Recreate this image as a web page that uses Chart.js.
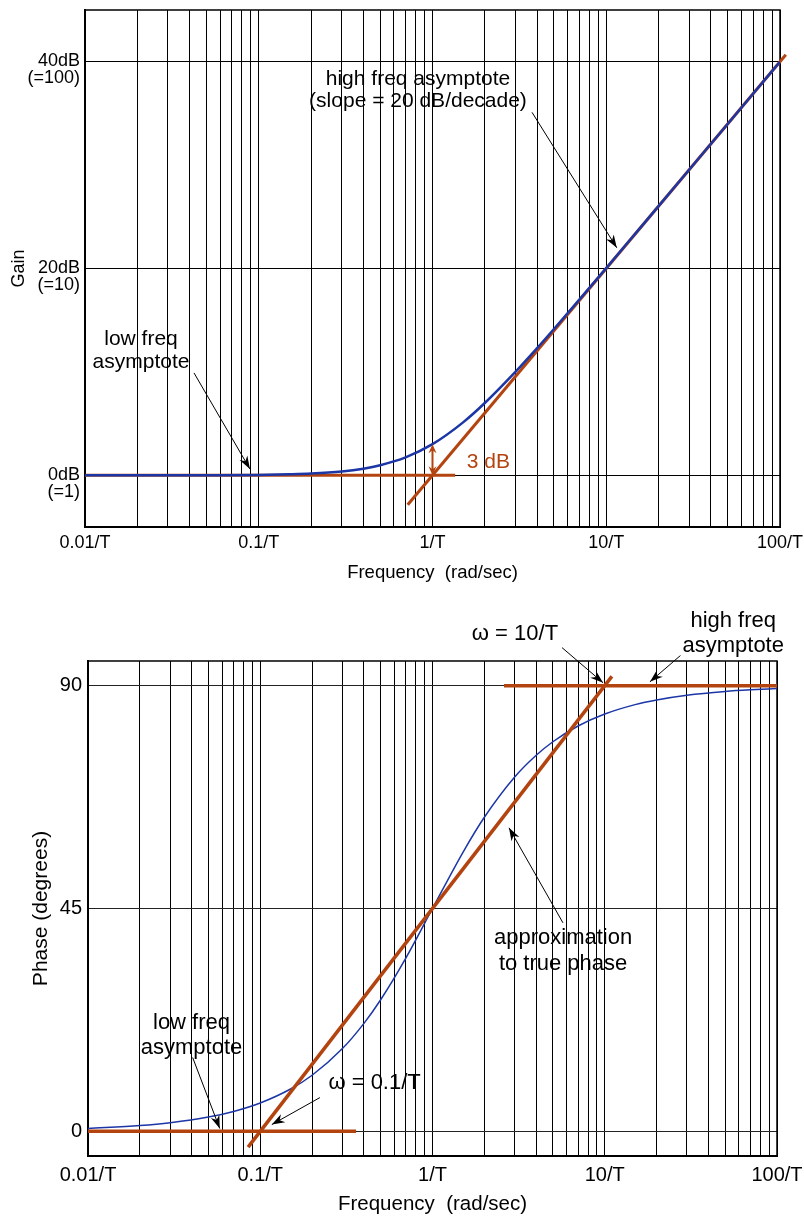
<!DOCTYPE html>
<html>
<head>
<meta charset="utf-8">
<script src="https://cdn.jsdelivr.net/npm/chart.js@4/dist/chart.umd.min.js"></script>
<style>
  html, body { margin: 0; padding: 0; background: #fff; }
  #wrap { position: relative; width: 804px; height: 1219px; }
  #gainBox { position: absolute; left: 0; top: 0; width: 804px; height: 600px; }
  #phaseBox { position: absolute; left: 0; top: 600px; width: 804px; height: 619px; }
</style>
</head>
<body>
<div id="wrap">
  <div id="gainBox"><canvas id="gainChart"></canvas></div>
  <div id="phaseBox"><canvas id="phaseChart"></canvas></div>
</div>
<script>
// Frequency axis: decades and their labels (frequencies in units of 1/T)
const decades = [0.01, 0.1, 1, 10, 100];
const decadeLabels = ['0.01/T', '0.1/T', '1/T', '10/T', '100/T'];

// Gain of 1 + jωT in dB
const gainFreq = [0.01, 0.02, 0.05, 0.1, 0.15, 0.2, 0.3, 0.4, 0.5, 0.7, 1, 1.5, 2, 3, 4, 5, 7, 10, 15, 20, 30, 50, 70, 100];
const gainDb   = [0.00, 0.00, 0.01, 0.04, 0.10, 0.17, 0.37, 0.64, 0.97, 1.73, 3.01, 5.12, 6.99, 10.00, 12.30, 14.15, 16.99, 20.04, 23.54, 26.03, 29.55, 33.98, 36.90, 40.00];
const gainTicks = [0, 20, 40];
const gainTickLabels = [['0dB', '(=1)'], ['20dB', '(=10)'], ['40dB', '(=100)']];

// Straight-line gain asymptotes
const lowGainAsymFreq = [0.01, 1.35];
const lowGainAsymDb = [0, 0];
const highGainAsymFreq = [0.72, 108];
const highGainAsymDb = [-2.85, 40.67];
// Gap between the true gain and the asymptotes at the corner frequency
const cornerFreq = 1;
const cornerGapDb = [0, 3.01];

// Phase of 1 + jωT in degrees
const phaseFreq = [0.01, 0.02, 0.03, 0.05, 0.07, 0.1, 0.15, 0.2, 0.3, 0.4, 0.5, 0.7, 1, 1.5, 2, 3, 4, 5, 7, 10, 15, 20, 30, 50, 70, 100];
const phaseDeg  = [0.57, 1.15, 1.72, 2.86, 4.00, 5.71, 8.53, 11.31, 16.70, 21.80, 26.57, 34.99, 45.00, 56.31, 63.43, 71.57, 75.96, 78.69, 81.87, 84.29, 86.19, 87.14, 88.09, 88.85, 89.18, 89.43];
const phaseTicks = [0, 45, 90];
const phaseTickLabels = ['0', '45', '90'];

// Straight-line phase approximation
const lowPhaseAsymFreq = [0.01, 0.36];
const lowPhaseAsymDeg = [0, 0];
const highPhaseAsymFreq = [2.6, 100];
const highPhaseAsymDeg = [90, 90];
const approxFreq = [0.085, 11];
const approxDeg = [-3.2, 91.9];

// ---------------------------------------------------------------------------
const SANS = "'Liberation Sans', Arial, Helvetica, sans-serif";
const BLUE = '#1c36a6';
const RUST = '#b3430f';

const gridFreqs = [];
decades.slice(0, -1).forEach(d => {
  for (let k = 1; k <= 9; k++) gridFreqs.push(Number((d * k).toPrecision(6)));
});
gridFreqs.push(decades[decades.length - 1]);

function decadeLabel(v) {
  const i = decades.findIndex(d => Math.abs(Math.log10(v / d)) < 1e-6);
  return i >= 0 ? decadeLabels[i] : '';
}

const pts = (xs, ys) => xs.map((x, i) => ({ x, y: ys[i] }));

function freqAxis(o) {
  return {
    type: 'logarithmic',
    min: 0.01,
    max: 100,
    afterBuildTicks: s => { s.ticks = gridFreqs.map(v => ({ value: v })); },
    afterFit: s => { s.height = o.height; s.paddingLeft = 0; s.paddingRight = 0; },
    grid: { color: '#000', lineWidth: 1, drawTicks: false },
    border: { display: true, color: '#000', width: 2 },
    ticks: {
      autoSkip: false, maxRotation: 0, minRotation: 0,
      padding: o.tickPad, color: '#000',
      font: { family: SANS, size: o.tickSize },
      callback: v => decadeLabel(v)
    },
    title: {
      display: true, text: 'Frequency  (rad/sec)', color: '#000',
      font: { family: SANS, size: o.titleSize },
      padding: { top: 0, bottom: o.titlePad }
    }
  };
}

function arrowHead(ctx, x0, y0, x1, y1, len, half, notch) {
  const a = Math.atan2(y1 - y0, x1 - x0);
  const c = Math.cos(a), s = Math.sin(a);
  ctx.beginPath();
  ctx.moveTo(x1, y1);
  ctx.lineTo(x1 - len * c + half * s, y1 - len * s - half * c);
  ctx.lineTo(x1 - notch * c, y1 - notch * s);
  ctx.lineTo(x1 - len * c - half * s, y1 - len * s + half * c);
  ctx.closePath();
  ctx.fill();
}

// Callout text, leader arrows and the plot frame, placed in data coordinates
function notesPlugin(cfg) {
  return {
    id: 'notes',
    beforeDatasetsDraw(chart) {
      const { ctx, chartArea: a } = chart;
      ctx.save();
      ctx.strokeStyle = '#000';
      ctx.lineWidth = 1.5;
      ctx.strokeRect(a.left, a.top, a.right - a.left, a.bottom - a.top);
      ctx.restore();
    },
    afterDatasetsDraw(chart) {
      const { ctx, scales: { x, y } } = chart;
      const px = f => x.getPixelForValue(f);
      const py = v => y.getPixelForValue(v);
      ctx.save();
      (cfg.arrows || []).forEach(ar => {
        const x0 = px(ar.from[0]), y0 = py(ar.from[1]);
        const x1 = px(ar.to[0]), y1 = py(ar.to[1]);
        ctx.strokeStyle = '#000';
        ctx.fillStyle = '#000';
        ctx.lineWidth = 1;
        ctx.beginPath();
        ctx.moveTo(x0, y0);
        ctx.lineTo(x1, y1);
        ctx.stroke();
        arrowHead(ctx, x0, y0, x1, y1, 13, 4.5, 9);
      });
      (cfg.spans || []).forEach(sp => {
        const xx = px(sp.at), ya = py(sp.range[0]), yb = py(sp.range[1]);
        ctx.strokeStyle = sp.color;
        ctx.fillStyle = sp.color;
        ctx.lineWidth = 2;
        ctx.beginPath();
        ctx.moveTo(xx, ya - 6);
        ctx.lineTo(xx, yb + 6);
        ctx.stroke();
        arrowHead(ctx, xx, yb + 10, xx, ya, 9, 4, 6);
        arrowHead(ctx, xx, ya - 10, xx, yb, 9, 4, 6);
      });
      (cfg.labels || []).forEach(lb => {
        ctx.fillStyle = lb.color || '#000';
        ctx.font = `${lb.size}px ${SANS}`;
        ctx.textAlign = lb.align || 'center';
        ctx.textBaseline = 'middle';
        const x0 = px(lb.at[0]), y0 = py(lb.at[1]);
        lb.lines.forEach((t, i) => ctx.fillText(t, x0, y0 + i * lb.gap));
      });
      ctx.restore();
    }
  };
}

const common = {
  responsive: true,
  maintainAspectRatio: false,
  animation: false,
  devicePixelRatio: 1,
  events: [],
  plugins: { legend: { display: false }, tooltip: { enabled: false } },
  elements: { point: { radius: 0 } }
};

// ---------------------------------------------------------------- gain plot
new Chart(document.getElementById('gainChart'), {
  type: 'line',
  data: {
    datasets: [
      { data: pts(gainFreq, gainDb), borderColor: BLUE, borderWidth: 2.5, cubicInterpolationMode: 'monotone', order: 0 },
      { data: pts(lowGainAsymFreq, lowGainAsymDb), borderColor: RUST, borderWidth: 3, tension: 0, order: 1, clip: false },
      { data: pts(highGainAsymFreq, highGainAsymDb), borderColor: RUST, borderWidth: 3, tension: 0, order: 1, clip: false }
    ]
  },
  options: Object.assign({}, common, {
    layout: { padding: { left: 0, top: 10, right: 24, bottom: 0 } },
    scales: {
      x: freqAxis({ height: 73, tickPad: 5, tickSize: 18, titleSize: 18.5, titlePad: 16 }),
      y: {
        type: 'linear', min: -5, max: 45,
        afterBuildTicks: s => { s.ticks = gainTicks.map(v => ({ value: v })); },
        afterFit: s => { s.width = 85; s.paddingTop = 0; s.paddingBottom = 0; },
        grid: { color: '#000', lineWidth: 1, drawTicks: false },
        border: { display: true, color: '#000', width: 2 },
        ticks: {
          padding: 5, color: '#000', labelOffset: 8,
          font: { family: SANS, size: 18, lineHeight: 0.92 },
          callback: v => gainTickLabels[gainTicks.indexOf(v)]
        },
        title: {
          display: true, text: 'Gain', color: '#000',
          font: { family: SANS, size: 18 },
          padding: { top: 8, bottom: 0 }
        }
      }
    }
  }),
  plugins: [notesPlugin({
    labels: [
      { lines: ['high freq asymptote', '(slope = 20 dB/decade)'], at: [0.825, 38.3], gap: 22, size: 21 },
      { lines: ['low freq', 'asymptote'], at: [0.021, 13.2], gap: 23, size: 21 },
      { lines: ['3 dB'], at: [1.574, 1.22], gap: 0, size: 21, align: 'left', color: RUST }
    ],
    arrows: [
      { from: [3.74, 35.1], to: [11.5, 22.0] },
      { from: [0.0424, 9.9], to: [0.089, 0.6] }
    ],
    spans: [
      { at: cornerFreq, range: cornerGapDb, color: RUST }
    ]
  })]
});

// --------------------------------------------------------------- phase plot
new Chart(document.getElementById('phaseChart'), {
  type: 'line',
  data: {
    datasets: [
      { data: pts(lowPhaseAsymFreq, lowPhaseAsymDeg), borderColor: RUST, borderWidth: 3.5, tension: 0, order: 0 },
      { data: pts(highPhaseAsymFreq, highPhaseAsymDeg), borderColor: RUST, borderWidth: 3.5, tension: 0, order: 0 },
      { data: pts(approxFreq, approxDeg), borderColor: RUST, borderWidth: 3.5, tension: 0, order: 0, clip: false },
      { data: pts(phaseFreq, phaseDeg), borderColor: BLUE, borderWidth: 1.5, cubicInterpolationMode: 'monotone', order: 1 }
    ]
  },
  options: Object.assign({}, common, {
    layout: { padding: { left: 0, top: 61, right: 27, bottom: 0 } },
    scales: {
      x: freqAxis({ height: 63, tickPad: 7, tickSize: 20, titleSize: 20.5, titlePad: 2 }),
      y: {
        type: 'linear', min: -5, max: 95,
        afterBuildTicks: s => { s.ticks = phaseTicks.map(v => ({ value: v })); },
        afterFit: s => { s.width = 88; s.paddingTop = 0; s.paddingBottom = 0; },
        grid: { color: '#222', lineWidth: 1, drawTicks: false },
        border: { display: true, color: '#000', width: 2 },
        ticks: {
          padding: 6, color: '#000',
          font: { family: SANS, size: 20 },
          callback: v => phaseTickLabels[phaseTicks.indexOf(v)]
        },
        title: {
          display: true, text: 'Phase (degrees)', color: '#000',
          font: { family: SANS, size: 21 },
          padding: { top: 29, bottom: 0 }
        }
      }
    }
  }),
  plugins: [notesPlugin({
    labels: [
      { lines: ['\u03c9 = 10/T'], at: [3.01, 100.5], gap: 0, size: 22 },
      { lines: ['high freq', 'asymptote'], at: [55.7, 103.0], gap: 25, size: 22 },
      { lines: ['approximation', 'to true phase'], at: [5.73, 39.1], gap: 26, size: 22 },
      { lines: ['low freq', 'asymptote'], at: [0.0399, 21.95], gap: 25, size: 22 },
      { lines: ['\u03c9 = 0.1/T'], at: [0.461, 9.83], gap: 0, size: 22 }
    ],
    arrows: [
      { from: [5.65, 97.7], to: [9.78, 90.6] },
      { from: [27.5, 96.1], to: [18.3, 90.8] },
      { from: [5.72, 42.1], to: [2.78, 61.3] },
      { from: [0.0405, 14.9], to: [0.0582, 0.55] },
      { from: [0.222, 6.8], to: [0.1167, 1.35] }
    ]
  })]
});
</script>
</body>
</html>
